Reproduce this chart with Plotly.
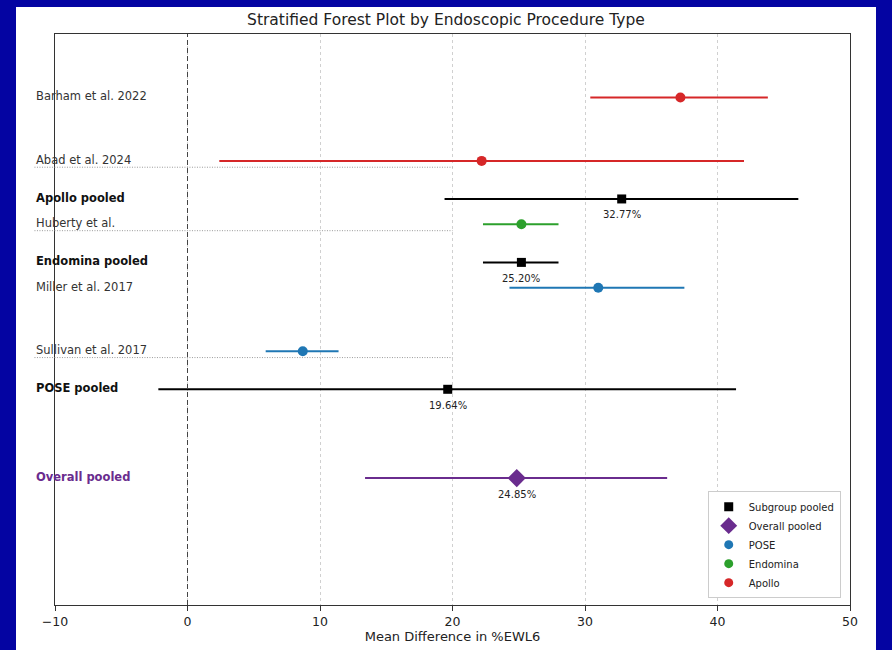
import plotly.graph_objects as go

# ---- data ----
labels = ["Barham et al. 2022", "Abad et al. 2024", "Apollo pooled",
          "Huberty et al.", "Endomina pooled",
          "Miller et al. 2017", "Sullivan et al. 2017", "POSE pooled",
          "Overall pooled"]
kinds = ["study", "study", "pooled", "study", "pooled", "study", "study", "pooled", "overall"]
groups = ["Apollo", "Apollo", "Apollo", "Endomina", "Endomina", "POSE", "POSE", "POSE", "Overall"]
ypos = [0, 5, 8, 10, 13, 15, 20, 23, 30]
means = [37.2, 22.2, 32.77, 25.2, 25.20, 31.0, 8.7, 19.64, 24.85]
lower = [30.4, 2.4, 19.4, 22.3, 22.3, 24.3, 5.9, -2.2, 13.4]
upper = [43.8, 42.0, 46.1, 28.0, 28.0, 37.5, 11.4, 41.4, 36.2]
separators_after = ["Abad et al. 2024", "Huberty et al.", "Sullivan et al. 2017"]
x_ticks = [-10, 0, 10, 20, 30, 40, 50]

group_colors = {"Apollo": "#d62728", "Endomina": "#2ca02c", "POSE": "#1f77b4"}
pooled_color = "#000000"
overall_color = "#6a2c8e"
FONT = "DejaVu Sans"

XMIN, XMAX = -10, 50
YMIN, YMAX = -5, 40
LABEL_X = -11.55


def to_paper(x):
    return (x - XMIN) / (XMAX - XMIN)


fig = go.Figure()

# white "image" background inside blue frame
fig.add_shape(type="rect", xref="paper", yref="paper",
              x0=(16 - 55) / 795, x1=(876 - 55) / 795,
              y0=-(650 - 604 + 2) / 571, y1=1 + (33 - 6) / 571,
              fillcolor="white", line=dict(width=0), layer="below")

for lab, k, g, y, m, lo, hi in zip(labels, kinds, groups, ypos, means, lower, upper):
    if k == "study":
        col, sym, size = group_colors[g], "circle", 10
    elif k == "pooled":
        col, sym, size = pooled_color, "square", 9
    else:
        col, sym, size = overall_color, "diamond", 14
    fig.add_trace(go.Scatter(x=[lo, hi], y=[y, y], mode="lines",
                             line=dict(color=col, width=2), showlegend=False,
                             hoverinfo="skip"))
    fig.add_trace(go.Scatter(x=[m], y=[y], mode="markers",
                             marker=dict(color=col, symbol=sym, size=size),
                             showlegend=False, name=lab))
    if k != "study":
        fig.add_annotation(x=m, y=y, text=f"{m:.2f}%", showarrow=False,
                           yshift=-16, font=dict(family=FONT, size=10, color="#222"),
                           xanchor="center", yanchor="middle")
    if k == "study":
        txt, fcol = lab, "#333"
    elif k == "pooled":
        txt, fcol = f"<b>{lab}</b>", "#111"
    else:
        txt, fcol = f"<b>{lab}</b>", overall_color
    fig.add_annotation(x=to_paper(LABEL_X), xref="paper", y=y, yref="y", text=txt,
                       showarrow=False, xanchor="left", yanchor="middle", yshift=1,
                       font=dict(family=FONT, size=11.5, color=fcol))

# separators
for lab, y in zip(labels, ypos):
    if lab in separators_after:
        fig.add_shape(type="line", xref="paper", yref="y",
                      x0=to_paper(LABEL_X), x1=to_paper(20), y0=y + 0.5, y1=y + 0.5,
                      line=dict(color="#999999", width=1, dash="1px,1.5px"))

# zero line
fig.add_shape(type="line", xref="x", yref="paper", x0=0, x1=0, y0=0, y1=1,
              line=dict(color="#444", width=1, dash="5px,3px"), layer="above")

# legend entries
legend_items = [("Subgroup pooled", pooled_color, "square", 9),
                ("Overall pooled", overall_color, "diamond", 13),
                ("POSE", group_colors["POSE"], "circle", 9),
                ("Endomina", group_colors["Endomina"], "circle", 9),
                ("Apollo", group_colors["Apollo"], "circle", 9)]
for name, col, sym, size in legend_items:
    fig.add_trace(go.Scatter(x=[None], y=[None], mode="markers", name=name,
                             marker=dict(color=col, symbol=sym, size=size)))

fig.update_layout(
    width=892, height=650,
    margin=dict(l=55, r=42, t=34, b=45, autoexpand=False),
    paper_bgcolor="#0404a2",
    plot_bgcolor="white",
    title=dict(text="Stratified Forest Plot by Endoscopic Procedure Type",
               x=0.5, xanchor="center", xref="container",
               y=1 - 20 / 650, yanchor="middle", yref="container",
               font=dict(family=FONT, size=15.5, color="#222")),
    xaxis=dict(range=[XMIN, XMAX], tickvals=x_ticks, showgrid=True,
               gridcolor="#d0d0d0", griddash="3px,3px", gridwidth=1,
               zeroline=False, showline=True, linecolor="#333", linewidth=1,
               mirror=True, ticks="outside", ticklen=5, tickcolor="#333",
               ticklabelstandoff=0, automargin=False,
               tickfont=dict(family=FONT, size=12.5, color="#222"),
               title=dict(text="Mean Difference in %EWL6", standoff=3,
                          font=dict(family=FONT, size=13, color="#222"))),
    yaxis=dict(range=[YMAX, YMIN], showgrid=False, zeroline=False,
               showticklabels=False, ticks="", showline=True, linecolor="#333",
               linewidth=1, mirror=True, automargin=False),
    legend=dict(x=to_paper(49.3), xanchor="right", y=0.012, yanchor="bottom",
                bgcolor="white", bordercolor="#cccccc", borderwidth=1,
                font=dict(family=FONT, size=10, color="#222"),
                tracegroupgap=0, itemwidth=30),
    showlegend=True,
)

fig.write_html("out.html")
